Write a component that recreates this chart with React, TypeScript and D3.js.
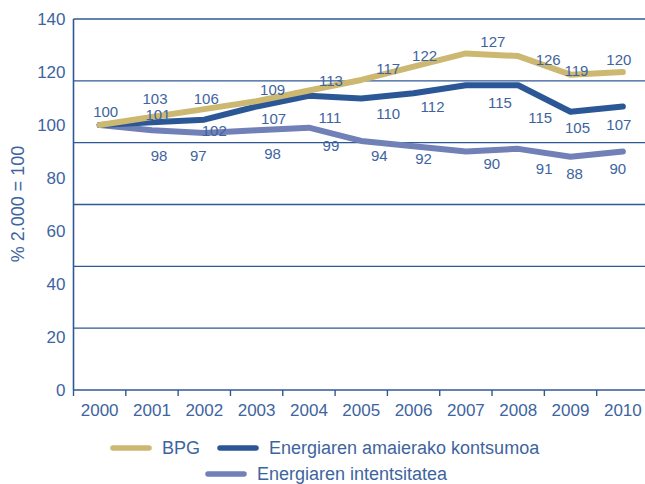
import React, { useEffect, useRef } from "react";
import * as d3 from "d3";

const years = ["2000", "2001", "2002", "2003", "2004", "2005", "2006", "2007", "2008", "2009", "2010"];
const bpg = [100, 103, 106, 109, 113, 117, 122, 127, 126, 119, 120];
const kontsumoa = [100, 101, 102, 107, 111, 110, 112, 115, 115, 105, 107];
const intentsitatea = [100, 98, 97, 98, 99, 94, 92, 90, 91, 88, 90];
const yTicks = [0, 20, 40, 60, 80, 100, 120, 140];
const seriesNames = ["BPG", "Energiaren amaierako kontsumoa", "Energiaren intentsitatea"];

// label nudges (px) so the numbers sit where the original puts them
const bpgNudge = [[6, -14], [3, -19], [2, -11], [16, -12], [22, -10], [27, -11], [11, -11], [27, -12], [30, 3], [6, -4], [-4, -13]];
const kontsumoaNudge = [null, [6, -8], [10, 11], [17, 12], [21, 22], [27, 15], [19, 13], [34, 17], [22, 32], [7, 16], [-4, 18]];
const intentsitateaNudge = [null, [7, 25], [-6, 23], [16, 23], [22, 18], [18, 15], [10, 12], [26, 12], [26, 20], [4, 17], [-5, 17]];

const W = 645, H = 484;
const margin = { top: 19, right: -4, bottom: 94, left: 73.5 };
const textColor = "#3e64a0";
const axisColor = "#2f5894";
const colors = ["#cdb872", "#2c5796", "#7180b6"];

export default function App() {
  const ref = useRef<SVGSVGElement>(null);

  useEffect(() => {
    const svg = d3.select(ref.current);
    svg.selectAll("*").remove();

    const x = d3.scaleBand().domain(years).range([margin.left, W - margin.right]);
    const y = d3.scaleLinear().domain([0, 140]).range([H - margin.bottom, margin.top]);
    const cx = (i: number) => (x(years[i]) as number) + x.bandwidth() / 2;

    const g = svg.append("g").attr("font-family", "'Liberation Sans', Arial, sans-serif");

    // horizontal grid: plot split in six equal bands
    g.append("g")
      .selectAll("line")
      .data(d3.range(1, 7).map(k => (140 * k) / 6))
      .join("line")
      .attr("x1", margin.left)
      .attr("x2", W)
      .attr("y1", d => y(d))
      .attr("y2", d => y(d))
      .attr("stroke", axisColor)
      .attr("stroke-width", 1.4);

    // axes
    g.append("line")
      .attr("x1", margin.left).attr("x2", margin.left)
      .attr("y1", y(140)).attr("y2", y(0))
      .attr("stroke", axisColor).attr("stroke-width", 1.6);
    g.append("line")
      .attr("x1", margin.left).attr("x2", W)
      .attr("y1", y(0)).attr("y2", y(0))
      .attr("stroke", axisColor).attr("stroke-width", 1.6);

    g.append("g")
      .selectAll("line")
      .data(years)
      .join("line")
      .attr("x1", d => x(d) as number)
      .attr("x2", d => x(d) as number)
      .attr("y1", y(0))
      .attr("y2", y(0) + 6)
      .attr("stroke", axisColor)
      .attr("stroke-width", 1.4);

    g.append("g")
      .selectAll("text")
      .data(years)
      .join("text")
      .attr("x", (d, i) => cx(i))
      .attr("y", y(0) + 20)
      .attr("text-anchor", "middle")
      .attr("dominant-baseline", "central")
      .attr("font-size", 17)
      .attr("fill", textColor)
      .text(d => d);

    g.append("g")
      .selectAll("text")
      .data(yTicks)
      .join("text")
      .attr("x", margin.left - 8)
      .attr("y", d => y(d))
      .attr("text-anchor", "end")
      .attr("dominant-baseline", "central")
      .attr("font-size", 17)
      .attr("fill", textColor)
      .text(d => d);

    g.append("text")
      .attr("transform", `translate(18,204) rotate(-90)`)
      .attr("text-anchor", "middle")
      .attr("dominant-baseline", "central")
      .attr("font-size", 18)
      .attr("fill", textColor)
      .text("% 2.000 = 100");

    // lines
    const line = d3.line<number>().x((d, i) => cx(i)).y(d => y(d));
    const all = [intentsitatea, kontsumoa, bpg];
    const allColors = [colors[2], colors[1], colors[0]];
    all.forEach((s, k) => {
      g.append("path")
        .datum(s)
        .attr("d", line)
        .attr("fill", "none")
        .attr("stroke", allColors[k])
        .attr("stroke-width", 6)
        .attr("stroke-linecap", "round")
        .attr("stroke-linejoin", "round");
    });

    // value labels
    const labelSets: [number[], (number[] | null)[]][] = [
      [bpg, bpgNudge],
      [kontsumoa, kontsumoaNudge],
      [intentsitatea, intentsitateaNudge],
    ];
    labelSets.forEach(([s, nudge]) => {
      s.forEach((v, i) => {
        const n = nudge[i];
        if (!n) return;
        g.append("text")
          .attr("x", cx(i) + n[0])
          .attr("y", y(v) + n[1])
          .attr("text-anchor", "middle")
          .attr("dominant-baseline", "central")
          .attr("font-size", 15)
          .attr("fill", textColor)
          .text(v);
      });
    });

    // legend
    const legendRows = [
      { name: seriesNames[0], color: colors[0], x: 113, y: 448 },
      { name: seriesNames[1], color: colors[1], x: 220, y: 448 },
      { name: seriesNames[2], color: colors[2], x: 208, y: 474 },
    ];
    const lg = g.append("g").selectAll("g").data(legendRows).join("g")
      .attr("transform", d => `translate(${d.x},${d.y})`);
    lg.append("line")
      .attr("x1", 0).attr("x2", 36)
      .attr("stroke", d => d.color)
      .attr("stroke-width", 5.5)
      .attr("stroke-linecap", "round");
    lg.append("text")
      .attr("x", 49)
      .attr("dominant-baseline", "central")
      .attr("font-size", 18)
      .attr("fill", textColor)
      .text(d => d.name);
  }, []);

  return (
    <svg
      ref={ref}
      width={W}
      height={H}
      style={{ position: "absolute", left: 0, top: 0, background: "#fff" }}
    />
  );
}
